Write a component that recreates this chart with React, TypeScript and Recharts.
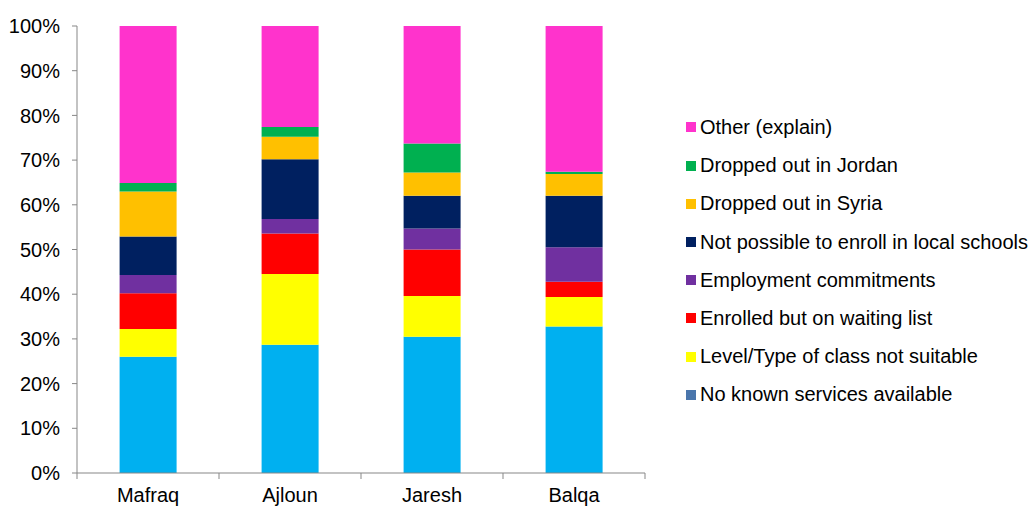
import React from 'react';
import { BarChart, Bar, XAxis, YAxis, Legend } from 'recharts';

const categories = ['Mafraq', 'Ajloun', 'Jaresh', 'Balqa'];

const noKnownServices = [26.0, 28.7, 30.5, 32.8];
const levelType = [6.2, 15.8, 9.1, 6.6];
const enrolledWaiting = [8.0, 9.1, 10.4, 3.4];
const employment = [4.1, 3.2, 4.7, 7.7];
const notPossible = [8.6, 13.4, 7.3, 11.5];
const droppedSyria = [10.1, 5.0, 5.2, 4.9];
const droppedJordan = [1.9, 2.2, 6.5, 0.5];
const other = [35.1, 22.6, 26.3, 32.6];

const yTicks = [0, 0.1, 0.2, 0.3, 0.4, 0.5, 0.6, 0.7, 0.8, 0.9, 1];

const series = [
  { key: 'noKnown', name: 'No known services available', values: noKnownServices, fill: '#00B0F0', legendColor: '#4A76AC' },
  { key: 'levelType', name: 'Level/Type of class not suitable', values: levelType, fill: '#FFFF00', legendColor: '#FFFF00' },
  { key: 'enrolled', name: 'Enrolled but on waiting list', values: enrolledWaiting, fill: '#FF0000', legendColor: '#FF0000' },
  { key: 'employment', name: 'Employment commitments', values: employment, fill: '#7030A0', legendColor: '#7030A0' },
  { key: 'notPossible', name: 'Not possible to enroll in local schools', values: notPossible, fill: '#002060', legendColor: '#002060' },
  { key: 'syria', name: 'Dropped out in Syria', values: droppedSyria, fill: '#FFC000', legendColor: '#FFC000' },
  { key: 'jordan', name: 'Dropped out in Jordan', values: droppedJordan, fill: '#00B050', legendColor: '#00B050' },
  { key: 'other', name: 'Other (explain)', values: other, fill: '#FF33CC', legendColor: '#FF33CC' },
];

const data = categories.map((c, i) => {
  const row: Record<string, string | number> = { category: c };
  series.forEach((s) => {
    row[s.key] = s.values[i];
  });
  return row;
});

const WIDTH = 1029;
const HEIGHT = 506;
const PLOT_LEFT = 77;
const PLOT_RIGHT = 645;
const PLOT_TOP = 26;
const PLOT_BOTTOM = 473;
const FONT = '"Liberation Sans", Arial, sans-serif';
const FONT_SIZE = 20;
const AXIS_COLOR = '#878787';
const HALF_BAND = (PLOT_RIGHT - PLOT_LEFT) / categories.length / 2;

const XTick = (props: any) => {
  const { x, y, payload, index } = props;
  return (
    <g>
      <line x1={x + HALF_BAND} x2={x + HALF_BAND} y1={PLOT_BOTTOM} y2={PLOT_BOTTOM + 6} stroke={AXIS_COLOR} strokeWidth={1} />
      {index === 0 && (
        <line x1={x - HALF_BAND} x2={x - HALF_BAND} y1={PLOT_BOTTOM} y2={PLOT_BOTTOM + 6} stroke={AXIS_COLOR} strokeWidth={1} />
      )}
      <text x={x} y={y} dy="0.71em" textAnchor="middle" fill="#000" fontSize={FONT_SIZE} fontFamily={FONT}>
        {payload.value}
      </text>
    </g>
  );
};

const LegendContent = () => (
  <div style={{ fontFamily: FONT, fontSize: FONT_SIZE, color: '#000' }}>
    {[...series].reverse().map((s) => (
      <div key={s.key} style={{ height: 38.2, display: 'flex', alignItems: 'center', whiteSpace: 'nowrap' }}>
        <span style={{ display: 'inline-block', width: 10, height: 10, background: s.legendColor, marginRight: 4 }} />
        <span>{s.name}</span>
      </div>
    ))}
  </div>
);

export default function App() {
  return (
    <div style={{ position: 'absolute', left: 0, top: 0, width: WIDTH, height: HEIGHT, background: '#fff' }}>
      <BarChart
        width={WIDTH}
        height={HEIGHT}
        data={data}
        stackOffset="expand"
        barCategoryGap="30%"
        margin={{ top: PLOT_TOP, right: WIDTH - PLOT_RIGHT, bottom: 0, left: 0 }}
      >
        <XAxis
          dataKey="category"
          height={HEIGHT - PLOT_BOTTOM}
          axisLine={{ stroke: AXIS_COLOR, strokeWidth: 1 }}
          tickLine={false}
          tickSize={0}
          tickMargin={15}
          tick={<XTick />}
          interval={0}
        />
        <YAxis
          width={PLOT_LEFT}
          domain={[0, 1]}
          ticks={yTicks}
          interval={0}
          tickFormatter={(v: number) => `${Math.round(v * 100)}%`}
          axisLine={{ stroke: AXIS_COLOR, strokeWidth: 1 }}
          tickLine={{ stroke: AXIS_COLOR, strokeWidth: 1 }}
          tickSize={5}
          tickMargin={12}
          tick={{ fill: '#000', fontSize: FONT_SIZE, fontFamily: FONT }}
        />
        <Legend
          layout="horizontal"
          verticalAlign="middle"
          align="center"
          content={<LegendContent />}
          wrapperStyle={{ left: 686, top: 108.4, width: 343, right: 'auto', bottom: 'auto' }}
        />
        {series.map((s) => (
          <Bar key={s.key} dataKey={s.key} name={s.name} stackId="a" fill={s.fill} isAnimationActive={false} />
        ))}
      </BarChart>
    </div>
  );
}
